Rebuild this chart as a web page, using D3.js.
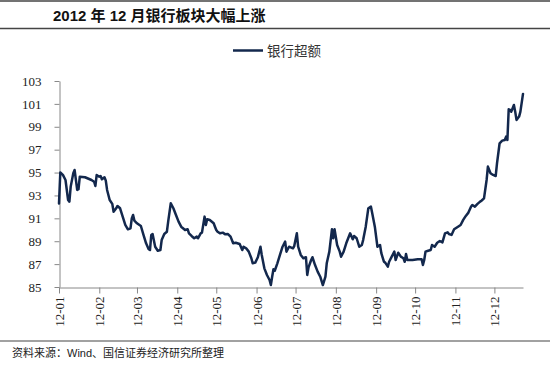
<!DOCTYPE html>
<html>
<head>
<meta charset="utf-8">
<script src="https://cdn.jsdelivr.net/npm/d3@7"></script>
<style>
  html, body { margin: 0; padding: 0; background: #fff; }
  svg { display: block; }
</style>
</head>
<body>
<svg id="chart" width="550" height="368"></svg>
<script>
// ---- data ----
const titleText = "2012 年 12 月银行板块大幅上涨";
const seriesName = "银行超额";
const sourceText = "资料来源：Wind、国信证券经济研究所整理";

const dates = [
  "01-01","01-02","01-04","01-06","01-08","01-09","01-10","01-12","01-13","01-15","01-16","01-17","01-21","01-26","01-28","01-29","01-30",
  "02-01","02-02","02-03","02-05","02-06","02-07","02-09","02-11","02-12","02-14","02-15","02-17","02-19","02-21","02-23","02-25","02-26","02-27","02-28",
  "03-01","03-04","03-06","03-08","03-10","03-11","03-12","03-13","03-15","03-17","03-19","03-20","03-22","03-24","03-25","03-27","03-29","03-31",
  "04-02","04-04","04-07","04-09","04-10","04-12","04-14","04-16","04-17","04-19","04-20","04-22","04-23","04-24","04-26","04-29","04-30",
  "05-01","05-02","05-04","05-06","05-08","05-10","05-12","05-14","05-16","05-19","05-21","05-22","05-24","05-26","05-28","05-29","05-31",
  "06-02","06-04","06-05","06-07","06-09","06-11","06-12","06-13","06-14","06-15","06-17","06-19","06-21","06-23","06-24","06-26","06-29","06-30",
  "07-02","07-03","07-05","07-07","07-09","07-10","07-11","07-13","07-14","07-16","07-18","07-20","07-22","07-24","07-25","07-27","07-29","07-30","07-31",
  "08-02","08-04","08-05","08-07","08-09","08-12","08-14","08-15","08-17","08-19","08-21","08-22","08-24","08-26","08-28","08-29","08-31",
  "09-02","09-04","09-05","09-07","09-08","09-10","09-11","09-13","09-15","09-16","09-18","09-20","09-22","09-23","09-24","09-25","09-29",
  "10-03","10-06","10-07","10-08","10-09","10-11","10-13","10-14","10-16","10-18","10-20","10-22","10-24","10-26","10-27","10-29","10-31",
  "11-03","11-05","11-07","11-09","11-11","11-13","11-14","11-16","11-18","11-20","11-21","11-23","11-25","11-26","11-28","11-30",
  "12-02","12-03","12-05","12-07","12-09","12-10","12-11","12-12","12-13","12-14","12-16","12-17","12-18","12-20","12-21","12-23"
];
const values = [
  92.3,95.0,94.8,94.35,92.6,92.46,93.77,94.94,95.23,93.48,93.54,94.64,94.59,94.35,94.2,93.83,94.79,
  94.64,94.7,94.41,94.59,94.29,93.48,92.6,92.26,91.58,91.88,92.08,91.88,91.15,90.42,90.04,90.13,91.0,91.29,90.8,
  90.57,90.33,89.55,88.82,88.3,88.23,89.55,89.63,88.52,88.17,88.23,89.1,89.63,89.83,90.71,92.32,91.88,91.29,
  90.71,90.27,89.98,90.04,89.69,89.46,89.26,89.4,89.26,89.69,89.75,91.15,90.42,90.92,90.86,90.57,90.27,
  89.98,89.83,89.69,89.75,89.6,89.63,89.4,88.82,88.87,88.76,88.23,88.52,88.38,88.09,87.51,87.07,87.13,
  87.6,88.52,87.8,86.63,86.05,85.61,85.17,85.9,86.55,86.42,87.07,87.8,88.52,88.96,88.09,88.52,88.38,88.58,
  89.69,88.52,87.8,87.51,87.6,86.05,86.72,87.36,87.6,86.92,86.34,85.9,85.17,85.9,87.07,88.09,90.04,89.26,90.04,
  88.67,88.09,87.65,88.09,88.82,89.69,89.17,89.46,89.26,88.52,88.67,89.1,90.27,91.88,92.02,91.44,90.27,
  88.52,88.67,87.95,87.21,87.13,86.78,87.21,87.65,88.09,87.36,88.0,87.65,87.51,87.21,87.88,87.36,87.36,
  87.42,87.42,86.92,87.36,88.09,88.17,88.23,88.67,88.52,88.87,89.02,88.9,89.69,89.78,89.63,89.55,90.04,
  90.27,90.42,90.86,91.21,91.5,92.02,92.17,92.02,92.26,92.46,92.54,92.75,94.35,95.52,94.94,94.79,
  94.7,95.81,97.56,97.79,97.85,98.14,97.85,100.53,100.47,100.32,100.91,100.32,99.6,99.89,100.32,101.87
];
const yTicks = [85, 87, 89, 91, 93, 95, 97, 99, 101, 103];
const xTickDates = ["01-01","02-01","03-01","04-01","05-01","06-01","07-01","08-01","09-01","10-01","11-01","12-01"];
const xTickLabels = ["12-01","12-02","12-03","12-04","12-05","12-06","12-07","12-08","12-09","12-10","12-11","12-12"];
const domainStart = "01-01", domainEnd = "12-23";

// ---- drawing ----
const parse = d3.timeParse("%Y-%m-%d");
const pd = s => parse("2012-" + s);
const data = dates.map((d, i) => ({ date: pd(d), value: values[i] }));

const svg = d3.select("#chart");
const W = 550, H = 368;
svg.append("rect").attr("width", W).attr("height", H).attr("fill", "#fff");

const x = d3.scaleTime().domain([pd(domainStart), pd(domainEnd)]).range([59, 523]);
const y = d3.scaleLinear().domain([85, 103]).range([287, 81]);

// title & rules
svg.append("line").attr("x1", 0).attr("x2", W).attr("y1", 1).attr("y2", 1)
  .attr("stroke", "#444").attr("stroke-width", 1.5);
svg.append("text").attr("x", 53).attr("y", 21)
  .attr("font-family", "'Liberation Sans', 'Noto Sans CJK SC', sans-serif")
  .attr("font-weight", "bold").attr("font-size", 15).attr("fill", "#111")
  .text(titleText);
svg.append("line").attr("x1", 0).attr("x2", W).attr("y1", 28.5).attr("y2", 28.5)
  .attr("stroke", "#444").attr("stroke-width", 1.5);

// legend
svg.append("line").attr("x1", 233).attr("x2", 263).attr("y1", 50.5).attr("y2", 50.5)
  .attr("stroke", "#13284d").attr("stroke-width", 2.5);
svg.append("text").attr("x", 267).attr("y", 55.5)
  .attr("font-family", "'Noto Sans CJK SC', sans-serif")
  .attr("font-size", 13.5).attr("fill", "#333").text(seriesName);

// y axis
const yAxis = svg.append("g").attr("transform", "translate(59.5,0)")
  .call(d3.axisLeft(y).tickValues(yTicks).tickSize(5).tickSizeOuter(0).tickPadding(13).tickFormat(d3.format("d")));
yAxis.select(".domain").attr("stroke", "#888");
yAxis.selectAll(".tick line").attr("stroke", "#888");
yAxis.selectAll("text").attr("font-family", "'Liberation Serif', serif")
  .attr("font-size", 13).attr("fill", "#222");

// x axis
const xAxis = svg.append("g").attr("transform", "translate(0,287.5)")
  .call(d3.axisBottom(x).tickValues(xTickDates.map(pd)).tickSize(6).tickSizeOuter(0)
    .tickFormat((d, i) => xTickLabels[i]));
xAxis.select(".domain").attr("stroke", "#888");
xAxis.selectAll(".tick line").attr("stroke", "#888");
xAxis.selectAll("text")
  .attr("font-family", "'Liberation Serif', serif").attr("font-size", 13).attr("fill", "#222")
  .attr("x", -9).attr("y", 0).attr("dy", "0.35em")
  .attr("transform", "rotate(-90)").style("text-anchor", "end");

// series line
const line = d3.line().x(d => x(d.date)).y(d => y(d.value)).curve(d3.curveLinear);
svg.append("path").datum(data).attr("d", line)
  .attr("fill", "none").attr("stroke", "#13284d").attr("stroke-width", 2.5)
  .attr("stroke-linejoin", "round").attr("stroke-linecap", "round");

// source
svg.append("line").attr("x1", 0).attr("x2", W).attr("y1", 341).attr("y2", 341)
  .attr("stroke", "#444").attr("stroke-width", 1.2);
svg.append("text").attr("x", 12).attr("y", 357)
  .attr("font-family", "'Liberation Sans', 'Noto Sans CJK SC', sans-serif")
  .attr("font-size", 11).attr("fill", "#222").text(sourceText);
</script>
</body>
</html>
